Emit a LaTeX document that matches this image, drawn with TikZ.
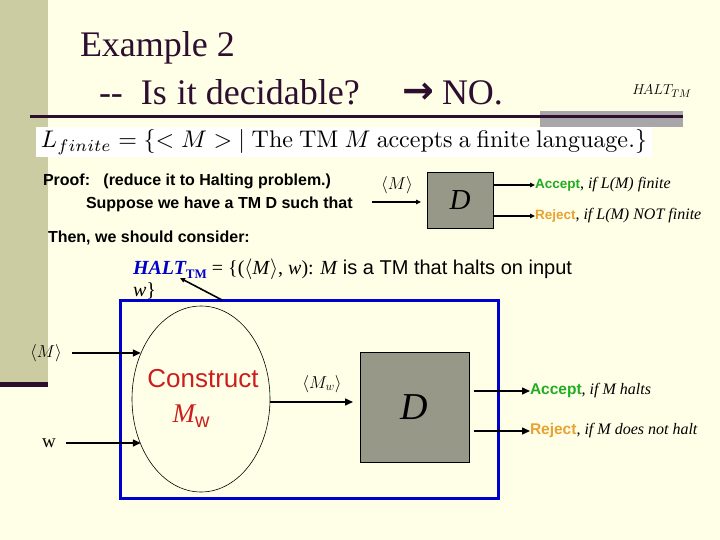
\documentclass[tikz,border=0pt]{standalone}
\usepackage[no-math]{fontspec}
\setmainfont{Liberation Serif}
\setsansfont{Liberation Sans}
\newfontfamily\arrowfont{DejaVu Sans}
\usetikzlibrary{shapes.geometric,arrows.meta}
\definecolor{bgc}{RGB}{255,255,232}
\definecolor{stripc}{RGB}{204,204,162}
\definecolor{darkc}{RGB}{46,14,46}
\definecolor{grayblk}{RGB}{168,166,168}
\definecolor{dfill}{RGB}{152,152,136}
\definecolor{myblue}{RGB}{0,0,204}
\definecolor{mygreen}{RGB}{34,172,34}
\definecolor{myorange}{RGB}{232,162,50}
\definecolor{myred}{RGB}{204,30,30}
\newcommand{\fsz}[1]{\fontsize{#1}{#1}\selectfont}
\begin{document}
\begin{tikzpicture}[x=1pt,y=-1pt,
  every node/.style={inner sep=0pt, outer sep=0pt},
  dbox/.style={draw=black, line width=0.8pt, fill=dfill},
  arr/.style={-{Triangle[length=8pt,width=7pt]}, line width=1.5pt},
  sarr/.style={-{Triangle[length=5pt,width=4.5pt]}, line width=1.2pt},
]
\useasboundingbox (0,0) rectangle (720,540);
\fill[bgc] (0,0) rectangle (720,540);
\fill[stripc] (0,0) rectangle (48,382);
\fill[darkc] (0,382) rectangle (48,387);
\fill[grayblk] (540,111) rectangle (683,127);
\draw[darkc, line width=3pt] (30,117) -- (683,117);

% titles
\node[anchor=base west, text=darkc, font=\fsz{36}] (title1) at (80,57) {Example 2};
\node[anchor=base west, text=darkc, font=\fsz{36}] (title2) at (99,105) {-{}-\ \ Is\hspace{1pt} it decidable?};
\node[anchor=base west, text=darkc, font=\arrowfont\bfseries\fsz{38}] (tarr) at (402,104) {→};
\node[anchor=base west, text=darkc, font=\fsz{36}] (tno) at (442,105) {NO.};
\node (haltr) at (662,91) {\fsz{15}$H\!ALT_{TM}$};

% L_finite
\node[fill=white, minimum width=616, minimum height=30, anchor=north west] (lbox) at (36,127) {};
\node (lfin) at (lbox.center) {\resizebox{606pt}{!}{$L_{finite} = \{< M >\ \mid \mathrm{The\ TM}\ M\ \mathrm{accepts\ a\ finite\ language.}\}$}};

% proof text
\node[anchor=base west, font=\sffamily\bfseries\fsz{16}] (proof) at (43,186) {Proof:\ \ \ (reduce it to Halting problem.)};
\node[anchor=base west, font=\sffamily\bfseries\fsz{16}] (supp) at (86,208) {Suppose we have a TM D such that};
\node[anchor=base west, font=\sffamily\bfseries\fsz{16}] (then) at (48,242) {Then, we should consider:};

% top decider
\node[dbox, minimum width=66, minimum height=56] (d1) at (460,200) {\fsz{29}\itshape D};
\coordinate (min1) at (372,202);
\node (lm1) at (397,185) {\fsz{16}$\langle M\rangle$};
\draw[sarr, shorten >=6pt] (min1) -- (min1 -| d1.west);
\node[anchor=west] (acc1) at (535,185) {{\sffamily\bfseries\fsz{13.5}\color{mygreen}Accept}{\fsz{16}, \itshape if\ L(M)\ finite}};
\node[anchor=west] (rej1) at (535,216) {{\sffamily\bfseries\fsz{13.5}\color{myorange}Reject}{\fsz{16}, \itshape if\ L(M)\ NOT\ finite}};
\draw[sarr] (d1.east |- acc1.west) -- (acc1.west);
\draw[sarr] (d1.east |- rej1.west) -- (rej1.west);

% HALT line
\node[anchor=base west, text=myblue, font=\fsz{20}\bfseries\itshape] (halt) at (133,274) {HALT\raisebox{-4pt}{\upshape\fsz{13}TM}};
\node[anchor=base west, font=\fsz{20}] (haltrest) at (halt.base east) {\ = \{($\langle$\textit{M}$\rangle$, \textit{w}): \textit{M} {\sffamily is a TM that halts on input}};
\node[anchor=base west, font=\fsz{20}] (haltw) at (133,296) {\textit{w}\}};

% blue box
\node[draw=myblue, line width=3pt, minimum width=378, minimum height=198] (blue) at (309,399) {};
\coordinate (hb) at (222,300);
\coordinate (haltpt) at (180,278);
\draw[sarr, line width=1.6pt] (hb) -- (haltpt);

% ellipse
\node[ellipse, draw, line width=0.6pt, minimum width=138, minimum height=186] (cons) at (201,399) {};
\node[text=myred, font=\sffamily\fsz{26}] (ctext) at (203,379) {Construct};
\node[text=myred] (mw) at (191,416) {\fsz{27}\itshape M\raisebox{-5pt}{\upshape\sffamily\fsz{20}w}};

% inputs
\node (inM) at (46,353) {\fsz{18}$\langle M\rangle$};
\node (inw) at (49,443) {\fsz{19}w};
\draw[arr, shorten <=10pt] (inM.east) -- (inM.east -| cons.143);
\draw[arr, shorten <=10pt] (inw.east) -- (inw.east -| cons.217);

% lower decider
\node[dbox, minimum width=109, minimum height=110] (d2) at (414.5,407) {\fsz{38}\itshape D};
\draw[arr, shorten >=7pt] ([yshift=-3pt]cons.east) -- ([yshift=-3pt]cons.east -| d2.west);
\node (lmw) at (322,384) {\fsz{18}$\langle M_w\rangle$};
\node[anchor=west] (acc2) at (530,391) {{\sffamily\bfseries\fsz{15.5}\color{mygreen}Accept}{\fsz{16}, \itshape if M halts}};
\node[anchor=west] (rej2) at (530,431) {{\sffamily\bfseries\fsz{15.5}\color{myorange}Reject}{\fsz{16}, \itshape if M does not halt}};
\draw[arr, shorten <=5pt] (d2.east |- acc2.west) -- (acc2.west);
\draw[arr, shorten <=5pt] (d2.east |- rej2.west) -- (rej2.west);
\end{tikzpicture}
\end{document}
